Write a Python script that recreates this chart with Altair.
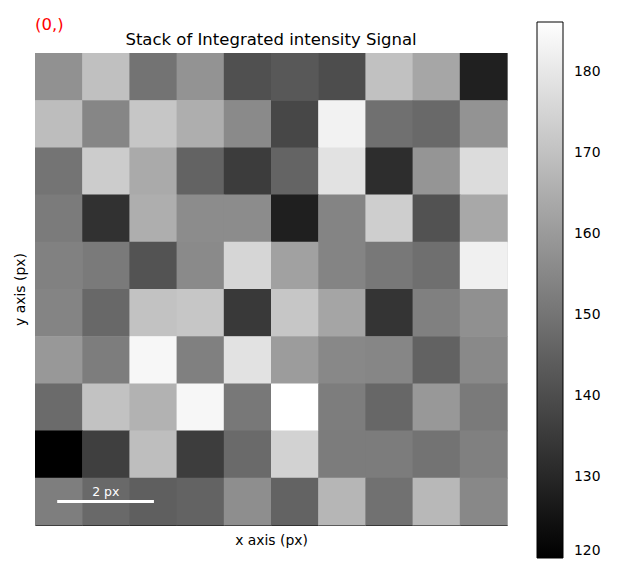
import altair as alt
import pandas as pd

# Integrated intensity values (row 0 = top)
row0 = [157.6, 169.8, 149.9, 158.2, 140.8, 142.8, 140.0, 170.1, 163.1, 128.3]
row1 = [169.1, 154.8, 171.4, 165.2, 155.8, 138.4, 182.8, 149.1, 147.3, 158.2]
row2 = [150.1, 173.0, 164.1, 145.7, 135.6, 146.0, 178.7, 131.7, 158.7, 177.1]
row3 = [151.9, 132.7, 165.2, 156.3, 156.3, 128.0, 154.3, 173.5, 141.3, 163.6]
row4 = [153.5, 151.7, 141.5, 155.8, 175.6, 161.8, 154.3, 151.2, 148.8, 182.3]
row5 = [154.3, 147.0, 170.4, 171.4, 134.8, 171.4, 162.8, 133.5, 153.2, 157.4]
row6 = [159.5, 152.5, 184.1, 153.2, 178.7, 160.5, 155.3, 154.8, 145.4, 155.6]
row7 = [147.8, 170.4, 166.2, 184.1, 151.2, 186.2, 152.5, 146.7, 159.5, 151.7]
row8 = [120.0, 136.4, 169.3, 135.8, 147.5, 174.5, 152.2, 152.2, 149.9, 153.2]
row9 = [152.7, 147.3, 144.7, 145.7, 156.9, 145.7, 167.2, 149.3, 167.8, 155.3]
rows = [row0, row1, row2, row3, row4, row5, row6, row7, row8, row9]

cbar_ticks = [120, 130, 140, 150, 160, 170, 180]
vmin, vmax = 120.0, 186.2

records = []
for r, vals in enumerate(rows):
    for c, v in enumerate(vals):
        records.append({"col": c, "col2": c + 1, "row": r, "row2": r + 1, "value": v})
df = pd.DataFrame(records)

scalebar = pd.DataFrame({"x": [0.47], "x2": [2.52], "y": [9.5], "label": ["2 px"], "lx": [1.5], "ly": [9.45]})

FONT = "DejaVu Sans"

xscale = alt.Scale(domain=[0, 10], nice=False, zero=False)
yscale = alt.Scale(domain=[0, 10], nice=False, zero=False, reverse=True)
cscale = alt.Scale(domain=[vmin, vmax], range=["#000000", "#ffffff"],
                   interpolate="rgb", nice=False, zero=False)

heat = alt.Chart(df).mark_rect(x2Offset=0.6, y2Offset=0.6).encode(
    x=alt.X("col:Q", scale=xscale,
            axis=alt.Axis(title="x axis (px)", labels=False, ticks=False, grid=False,
                          domain=True, domainColor="black", domainWidth=1,
                          titleFont=FONT, titleFontSize=13.9, titleFontWeight="normal",
                          titleColor="black", titlePadding=8)),
    x2="col2:Q",
    y=alt.Y("row:Q", scale=yscale,
            axis=alt.Axis(title="y axis (px)", labels=False, ticks=False, grid=False,
                          domain=False,
                          titleFont=FONT, titleFontSize=13.9, titleFontWeight="normal",
                          titleColor="black", titlePadding=8)),
    y2="row2:Q",
    color=alt.Color("value:Q", scale=cscale,
                    legend=alt.Legend(title=None, orient="none", legendX=502, legendY=-31,
                                      direction="vertical", gradientLength=536,
                                      gradientThickness=26, gradientStrokeColor="black",
                                      gradientStrokeWidth=1, values=cbar_ticks,
                                      labelFont=FONT, labelFontSize=13.9, labelColor="black",
                                      labelOverlap=False, labelOffset=11,
                                      labelBaseline="middle")),
)

bar = alt.Chart(scalebar).mark_rule(color="white", strokeWidth=3).encode(
    x=alt.X("x:Q", scale=xscale), x2="x2:Q", y=alt.Y("y:Q", scale=yscale)
)
bar_text = alt.Chart(scalebar).mark_text(color="white", font=FONT, fontSize=12.5,
                                         baseline="bottom", align="center").encode(
    x=alt.X("lx:Q", scale=xscale), y=alt.Y("ly:Q", scale=yscale), text="label:N"
)
corner = alt.Chart(pd.DataFrame({"t": ["(0,)"]})).mark_text(
    color="red", font=FONT, fontSize=16.5, align="left", baseline="middle"
).encode(x=alt.value(0), y=alt.value(-28), text="t:N")
title = alt.Chart(pd.DataFrame({"t": ["Stack of Integrated intensity Signal"]})).mark_text(
    color="black", font=FONT, fontSize=16.5, align="center", baseline="middle"
).encode(x=alt.value(236), y=alt.value(-13), text="t:N")

chart = alt.layer(heat, bar, bar_text, corner, title).properties(
    width=472, height=472,
    padding={"left": 27, "top": 45, "right": 100, "bottom": 40},
    autosize=alt.AutoSizeParams(type="none"),
).configure_view(stroke=None).configure(background="white")

chart.save("out.html", embed_options={"renderer": "svg", "actions": False})
